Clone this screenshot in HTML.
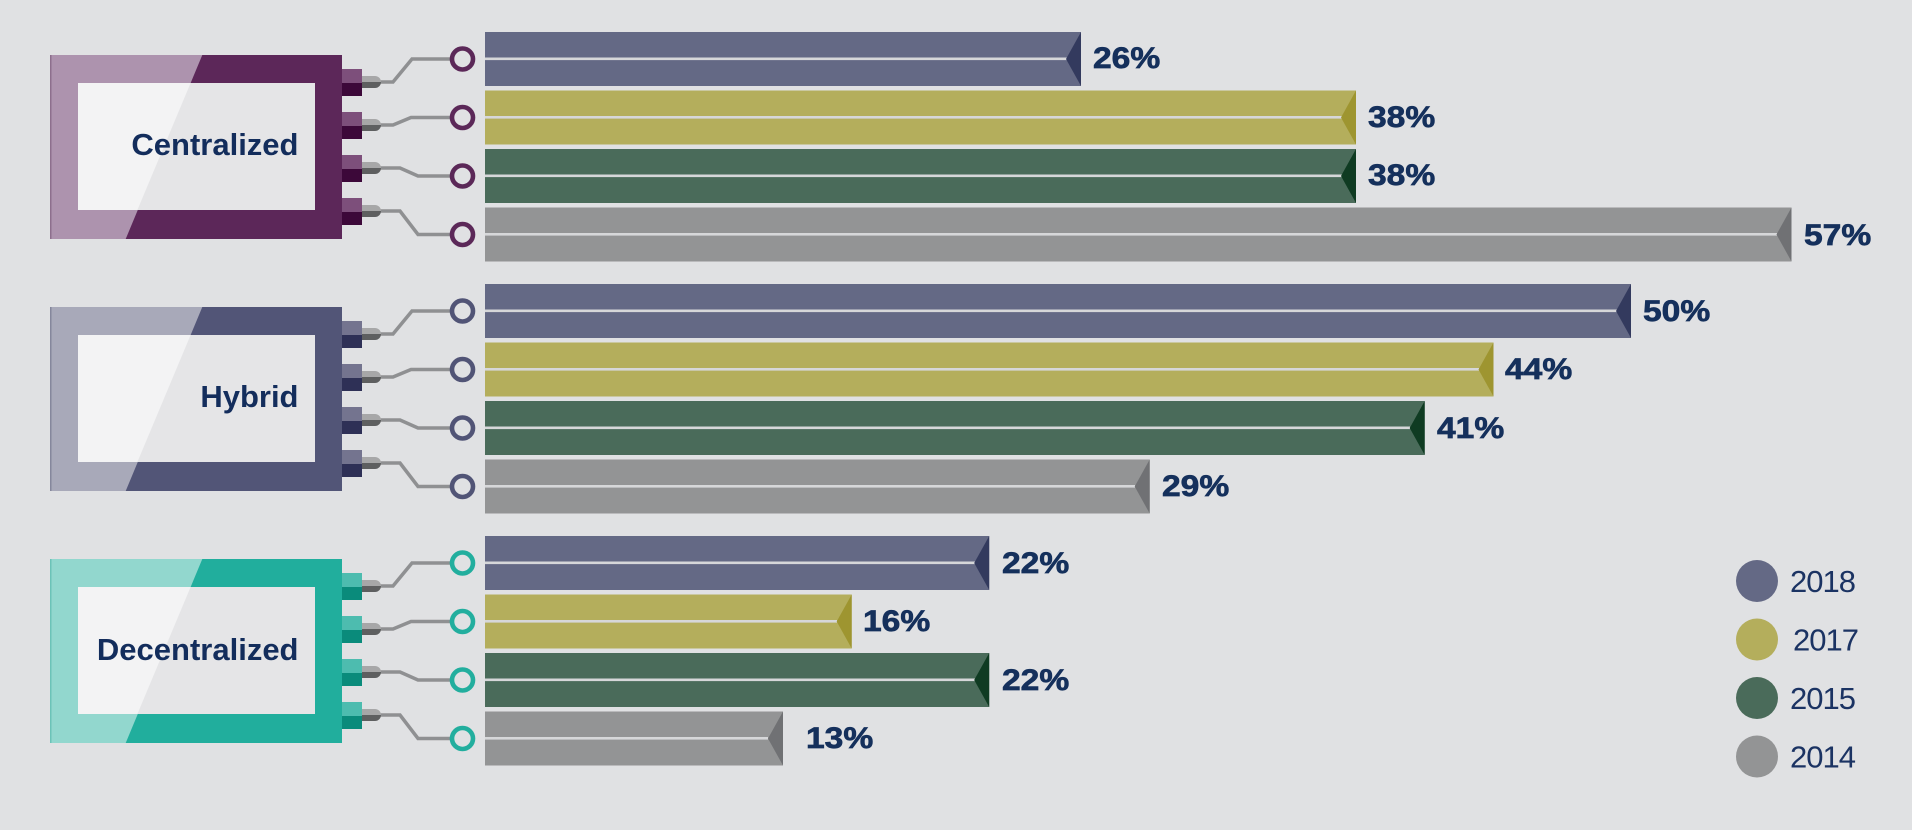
<!DOCTYPE html>
<html>
<head>
<meta charset="utf-8">
<style>
html,body{margin:0;padding:0;background:#e0e1e3;}
svg{display:block;}
.lbl{font-family:"Liberation Sans",Arial,sans-serif;font-weight:bold;font-size:30px;fill:#15305c;stroke:#15305c;stroke-width:0.7px;}
.box{font-family:"Liberation Sans",Arial,sans-serif;font-weight:bold;font-size:31px;fill:#132d5c;}
.leg{font-family:"Liberation Sans",Arial,sans-serif;font-size:31px;fill:#1b3363;letter-spacing:-1px;}
</style>
</head>
<body>
<svg width="1912" height="830" viewBox="0 0 1912 830" xmlns="http://www.w3.org/2000/svg">
<rect width="1912" height="830" fill="#e0e1e3"/>

<!-- ===== GROUP 1: Centralized (T=55) ===== -->
<g transform="translate(0,55)">
  <rect x="50" y="0" width="292" height="184" fill="#5c2759"/>
  <polygon points="50,0 202.3,0 125.7,184 50,184" fill="#ad93ae"/>
  <rect x="50" y="0" width="1.5" height="184" fill="#8d6f8d"/>
  <rect x="78" y="28" width="237" height="127" fill="#e5e5e7"/>
  <polygon points="78,28 190.6,28 137.4,155 78,155" fill="#f3f3f4"/>
  <text class="box" x="298.5" y="100" text-anchor="end">Centralized</text>
  <g>
    <rect x="342" y="14" width="20" height="14" fill="#7d4f7b"/><rect x="342" y="28" width="20" height="13" fill="#3c0839"/>
    <rect x="342" y="57" width="20" height="14" fill="#7d4f7b"/><rect x="342" y="71" width="20" height="13" fill="#3c0839"/>
    <rect x="342" y="100" width="20" height="14" fill="#7d4f7b"/><rect x="342" y="114" width="20" height="13" fill="#3c0839"/>
    <rect x="342" y="143" width="20" height="14" fill="#7d4f7b"/><rect x="342" y="157" width="20" height="13" fill="#3c0839"/>
  </g>
  <g fill="none" stroke="#8f9092" stroke-width="3.5" stroke-linejoin="miter">
    <polyline points="378,27 393,27 412,4 452,4"/>
    <polyline points="378,70 393,70 411,62.5 452,62.5"/>
    <polyline points="378,113 400,113 418,121 452,121"/>
    <polyline points="378,156 400,156 418,179.5 452,179.5"/>
  </g>
  <g>
    <path d="M362 21 h13 a6 6 0 0 1 6 6 h-19z" fill="#a7a7a8"/><path d="M362 27 h19 a6 6 0 0 1 -6 6 h-13z" fill="#5e5f60"/>
    <path d="M362 64 h13 a6 6 0 0 1 6 6 h-19z" fill="#a7a7a8"/><path d="M362 70 h19 a6 6 0 0 1 -6 6 h-13z" fill="#5e5f60"/>
    <path d="M362 107 h13 a6 6 0 0 1 6 6 h-19z" fill="#a7a7a8"/><path d="M362 113 h19 a6 6 0 0 1 -6 6 h-13z" fill="#5e5f60"/>
    <path d="M362 150 h13 a6 6 0 0 1 6 6 h-19z" fill="#a7a7a8"/><path d="M362 156 h19 a6 6 0 0 1 -6 6 h-13z" fill="#5e5f60"/>
  </g>
  <g fill="#e0e1e3" stroke="#5b2858" stroke-width="4.6">
    <circle cx="462.5" cy="4" r="10.5"/>
    <circle cx="462.5" cy="62.5" r="10.5"/>
    <circle cx="462.5" cy="121" r="10.5"/>
    <circle cx="462.5" cy="179.5" r="10.5"/>
  </g>
</g>

<!-- ===== GROUP 2: Hybrid (T=307) ===== -->
<g transform="translate(0,307)">
  <rect x="50" y="0" width="292" height="184" fill="#525577"/>
  <polygon points="50,0 202.3,0 125.7,184 50,184" fill="#a8a9b9"/>
  <rect x="50" y="0" width="1.5" height="184" fill="#85879c"/>
  <rect x="78" y="28" width="237" height="127" fill="#e5e5e7"/>
  <polygon points="78,28 190.6,28 137.4,155 78,155" fill="#f3f3f4"/>
  <text class="box" x="298.5" y="100" text-anchor="end">Hybrid</text>
  <g>
    <rect x="342" y="14" width="20" height="14" fill="#74748f"/><rect x="342" y="28" width="20" height="13" fill="#2e3056"/>
    <rect x="342" y="57" width="20" height="14" fill="#74748f"/><rect x="342" y="71" width="20" height="13" fill="#2e3056"/>
    <rect x="342" y="100" width="20" height="14" fill="#74748f"/><rect x="342" y="114" width="20" height="13" fill="#2e3056"/>
    <rect x="342" y="143" width="20" height="14" fill="#74748f"/><rect x="342" y="157" width="20" height="13" fill="#2e3056"/>
  </g>
  <g fill="none" stroke="#8f9092" stroke-width="3.5">
    <polyline points="378,27 393,27 412,4 452,4"/>
    <polyline points="378,70 393,70 411,62.5 452,62.5"/>
    <polyline points="378,113 400,113 418,121 452,121"/>
    <polyline points="378,156 400,156 418,179.5 452,179.5"/>
  </g>
  <g>
    <path d="M362 21 h13 a6 6 0 0 1 6 6 h-19z" fill="#a7a7a8"/><path d="M362 27 h19 a6 6 0 0 1 -6 6 h-13z" fill="#5e5f60"/>
    <path d="M362 64 h13 a6 6 0 0 1 6 6 h-19z" fill="#a7a7a8"/><path d="M362 70 h19 a6 6 0 0 1 -6 6 h-13z" fill="#5e5f60"/>
    <path d="M362 107 h13 a6 6 0 0 1 6 6 h-19z" fill="#a7a7a8"/><path d="M362 113 h19 a6 6 0 0 1 -6 6 h-13z" fill="#5e5f60"/>
    <path d="M362 150 h13 a6 6 0 0 1 6 6 h-19z" fill="#a7a7a8"/><path d="M362 156 h19 a6 6 0 0 1 -6 6 h-13z" fill="#5e5f60"/>
  </g>
  <g fill="#e0e1e3" stroke="#515476" stroke-width="4.6">
    <circle cx="462.5" cy="4" r="10.5"/>
    <circle cx="462.5" cy="62.5" r="10.5"/>
    <circle cx="462.5" cy="121" r="10.5"/>
    <circle cx="462.5" cy="179.5" r="10.5"/>
  </g>
</g>

<!-- ===== GROUP 3: Decentralized (T=559) ===== -->
<g transform="translate(0,559)">
  <rect x="50" y="0" width="292" height="184" fill="#21ae9d"/>
  <polygon points="50,0 202.3,0 125.7,184 50,184" fill="#92d7ce"/>
  <rect x="50" y="0" width="1.5" height="184" fill="#6cc3b8"/>
  <rect x="78" y="28" width="237" height="127" fill="#e5e5e7"/>
  <polygon points="78,28 190.6,28 137.4,155 78,155" fill="#f3f3f4"/>
  <text class="box" x="298.5" y="101" text-anchor="end">Decentralized</text>
  <g>
    <rect x="342" y="14" width="20" height="14" fill="#4dbcaf"/><rect x="342" y="28" width="20" height="13" fill="#0a8b7b"/>
    <rect x="342" y="57" width="20" height="14" fill="#4dbcaf"/><rect x="342" y="71" width="20" height="13" fill="#0a8b7b"/>
    <rect x="342" y="100" width="20" height="14" fill="#4dbcaf"/><rect x="342" y="114" width="20" height="13" fill="#0a8b7b"/>
    <rect x="342" y="143" width="20" height="14" fill="#4dbcaf"/><rect x="342" y="157" width="20" height="13" fill="#0a8b7b"/>
  </g>
  <g fill="none" stroke="#8f9092" stroke-width="3.5">
    <polyline points="378,27 393,27 412,4 452,4"/>
    <polyline points="378,70 393,70 411,62.5 452,62.5"/>
    <polyline points="378,113 400,113 418,121 452,121"/>
    <polyline points="378,156 400,156 418,179.5 452,179.5"/>
  </g>
  <g>
    <path d="M362 21 h13 a6 6 0 0 1 6 6 h-19z" fill="#a7a7a8"/><path d="M362 27 h19 a6 6 0 0 1 -6 6 h-13z" fill="#5e5f60"/>
    <path d="M362 64 h13 a6 6 0 0 1 6 6 h-19z" fill="#a7a7a8"/><path d="M362 70 h19 a6 6 0 0 1 -6 6 h-13z" fill="#5e5f60"/>
    <path d="M362 107 h13 a6 6 0 0 1 6 6 h-19z" fill="#a7a7a8"/><path d="M362 113 h19 a6 6 0 0 1 -6 6 h-13z" fill="#5e5f60"/>
    <path d="M362 150 h13 a6 6 0 0 1 6 6 h-19z" fill="#a7a7a8"/><path d="M362 156 h19 a6 6 0 0 1 -6 6 h-13z" fill="#5e5f60"/>
  </g>
  <g fill="#e0e1e3" stroke="#22ae9e" stroke-width="4.6">
    <circle cx="462.5" cy="4" r="10.5"/>
    <circle cx="462.5" cy="62.5" r="10.5"/>
    <circle cx="462.5" cy="121" r="10.5"/>
    <circle cx="462.5" cy="179.5" r="10.5"/>
  </g>
</g>

<!-- ===== BARS ===== -->
<g>
  <rect x="485" y="32" width="596" height="54" fill="#646985"/>
  <rect x="485" y="57.5" width="582" height="2.6" fill="#d6d7d9"/>
  <polygon points="1081,32 1081,86 1066,59" fill="#333a5e"/>
  <text class="lbl" x="1093" y="68" transform="translate(1093,0) scale(1.12,1) translate(-1093,0)">26%</text>

  <rect x="485" y="90.5" width="871" height="54" fill="#b4ae5c"/>
  <rect x="485" y="116" width="857" height="2.6" fill="#d6d7d9"/>
  <polygon points="1356,90.5 1356,144.5 1341,117.5" fill="#9e9530"/>
  <text class="lbl" x="1368" y="127" transform="translate(1368,0) scale(1.12,1) translate(-1368,0)">38%</text>

  <rect x="485" y="149" width="871" height="54" fill="#4a6b5a"/>
  <rect x="485" y="174.5" width="857" height="2.6" fill="#d6d7d9"/>
  <polygon points="1356,149 1356,203 1341,176" fill="#0f3b22"/>
  <text class="lbl" x="1368" y="185" transform="translate(1368,0) scale(1.12,1) translate(-1368,0)">38%</text>

  <rect x="485" y="207.5" width="1306.5" height="54" fill="#939495"/>
  <rect x="485" y="233" width="1292" height="2.6" fill="#d6d7d9"/>
  <polygon points="1791.5,207.5 1791.5,261.5 1776.5,234.5" fill="#707174"/>
  <text class="lbl" x="1804" y="245" transform="translate(1804,0) scale(1.12,1) translate(-1804,0)">57%</text>
</g>

<g>
  <rect x="485" y="284" width="1146" height="54" fill="#646985"/>
  <rect x="485" y="309.5" width="1132" height="2.6" fill="#d6d7d9"/>
  <polygon points="1631,284 1631,338 1616,311" fill="#333a5e"/>
  <text class="lbl" x="1643" y="321" transform="translate(1643,0) scale(1.12,1) translate(-1643,0)">50%</text>

  <rect x="485" y="342.5" width="1008.5" height="54" fill="#b4ae5c"/>
  <rect x="485" y="368" width="994" height="2.6" fill="#d6d7d9"/>
  <polygon points="1493.5,342.5 1493.5,396.5 1478.5,369.5" fill="#9e9530"/>
  <text class="lbl" x="1505" y="379" transform="translate(1505,0) scale(1.12,1) translate(-1505,0)">44%</text>

  <rect x="485" y="401" width="939.7" height="54" fill="#4a6b5a"/>
  <rect x="485" y="426.5" width="925" height="2.6" fill="#d6d7d9"/>
  <polygon points="1424.7,401 1424.7,455 1409.7,428" fill="#0f3b22"/>
  <text class="lbl" x="1437" y="438" transform="translate(1437,0) scale(1.12,1) translate(-1437,0)">41%</text>

  <rect x="485" y="459.5" width="664.7" height="54" fill="#939495"/>
  <rect x="485" y="485" width="650" height="2.6" fill="#d6d7d9"/>
  <polygon points="1149.7,459.5 1149.7,513.5 1134.7,486.5" fill="#707174"/>
  <text class="lbl" x="1162" y="496" transform="translate(1162,0) scale(1.12,1) translate(-1162,0)">29%</text>
</g>

<g>
  <rect x="485" y="536" width="504.2" height="54" fill="#646985"/>
  <rect x="485" y="561.5" width="490" height="2.6" fill="#d6d7d9"/>
  <polygon points="989.2,536 989.2,590 974.2,563" fill="#333a5e"/>
  <text class="lbl" x="1002" y="573" transform="translate(1002,0) scale(1.12,1) translate(-1002,0)">22%</text>

  <rect x="485" y="594.5" width="366.7" height="54" fill="#b4ae5c"/>
  <rect x="485" y="620" width="352" height="2.6" fill="#d6d7d9"/>
  <polygon points="851.7,594.5 851.7,648.5 836.7,621.5" fill="#9e9530"/>
  <text class="lbl" x="863" y="631" transform="translate(863,0) scale(1.12,1) translate(-863,0)">16%</text>

  <rect x="485" y="653" width="504.2" height="54" fill="#4a6b5a"/>
  <rect x="485" y="678.5" width="490" height="2.6" fill="#d6d7d9"/>
  <polygon points="989.2,653 989.2,707 974.2,680" fill="#0f3b22"/>
  <text class="lbl" x="1002" y="690" transform="translate(1002,0) scale(1.12,1) translate(-1002,0)">22%</text>

  <rect x="485" y="711.5" width="298" height="54" fill="#939495"/>
  <rect x="485" y="737" width="283" height="2.6" fill="#d6d7d9"/>
  <polygon points="783,711.5 783,765.5 768,738.5" fill="#707174"/>
  <text class="lbl" x="806" y="748" transform="translate(806,0) scale(1.12,1) translate(-806,0)">13%</text>
</g>

<!-- ===== LEGEND ===== -->
<g>
  <circle cx="1757" cy="581" r="21" fill="#646985"/>
  <text class="leg" x="1790" y="592">2018</text>
  <circle cx="1757" cy="639.5" r="21" fill="#b4ae5c"/>
  <text class="leg" x="1793" y="650.5">2017</text>
  <circle cx="1757" cy="698" r="21" fill="#4a6b5a"/>
  <text class="leg" x="1790" y="709">2015</text>
  <circle cx="1757" cy="756.5" r="21" fill="#939495"/>
  <text class="leg" x="1790" y="767.5">2014</text>
</g>
</svg>
</body>
</html>
